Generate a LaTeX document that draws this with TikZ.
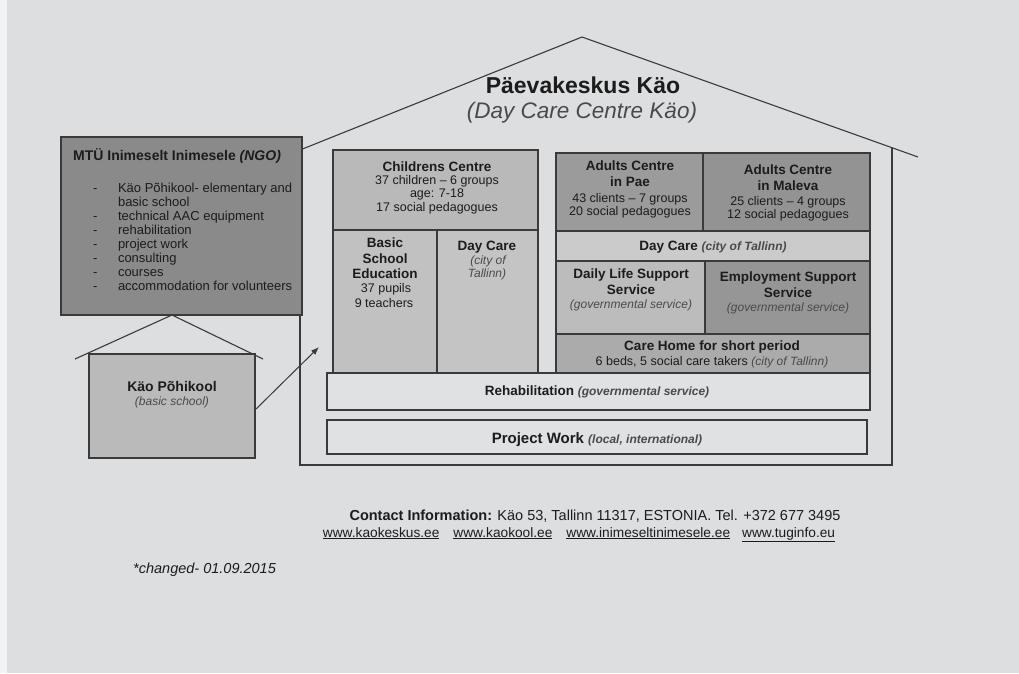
\documentclass[tikz,border=0pt]{standalone}
\usepackage{fontspec}
\setmainfont{Liberation Sans}
\usetikzlibrary{arrows.meta}
\definecolor{paper}{HTML}{DCDEE0}
\definecolor{edgestrip}{HTML}{F2F3F4}
\definecolor{ink}{HTML}{3A3A3A}
\definecolor{txt}{HTML}{1C1C1C}
\definecolor{itx}{HTML}{4A4A4A}
\definecolor{cNGO}{HTML}{8A8A8A}
\definecolor{cKao}{HTML}{BABABA}
\definecolor{cChild}{HTML}{B9B9B9}
\definecolor{cBasic}{HTML}{C1C1C1}
\definecolor{cDayL}{HTML}{C4C4C4}
\definecolor{cPae}{HTML}{9B9B9B}
\definecolor{cMal}{HTML}{939393}
\definecolor{cDayR}{HTML}{CBCBCB}
\definecolor{cDaily}{HTML}{BCBCBC}
\definecolor{cEmp}{HTML}{969696}
\definecolor{cCare}{HTML}{ABABAB}
\definecolor{cLight}{HTML}{DFE1E3}
\newcommand\fBold{\fontsize{13.5}{16}\selectfont\bfseries}
\newcommand\fReg{\fontsize{12.5}{15}\selectfont}
\newcommand\fIt{\fontsize{12}{14}\selectfont\itshape\color{itx}}
\tikzset{
  cell/.style={draw=ink, line width=1.1pt, inner sep=0pt, outer sep=0pt},
  lbl/.style={anchor=base, inner sep=0pt, outer sep=0pt, text=txt},
  wall/.style={draw=ink, line width=1.1pt, line join=miter},
}
\newcommand\cellbox[6]{\node[cell, fill=#6, minimum width={(#4)-(#2)}, minimum height={(#5)-(#3)}] (#1) at ({((#2)+(#4))/2},{((#3)+(#5))/2}) {};}
\newcommand\txtline[5]{\node[lbl] (#1) at (#2,#3) {#4#5};}
\begin{document}
\begin{tikzpicture}[x=1pt,y=-1pt]
\fill[paper] (0,0) rectangle (1019,673);
\fill[edgestrip] (0,0) rectangle (7,673);
\useasboundingbox (0,0) rectangle (1019,673);

% ---------- big house ----------
\coordinate (hl) at (300,150);
\coordinate (ha) at (582,37);
\coordinate (hr) at (918,157);
\coordinate (hrw) at (892,148);
\coordinate (hbl) at (300,465);
\coordinate (hbr) at (892,465);
\draw[wall] (hl) -- (ha) -- (hr);
\draw[wall] (hl) -- (hbl) -- (hbr) -- (hrw);

\txtline{title}{583}{93}{\fontsize{23}{27}\selectfont\bfseries}{Päevakeskus Käo}
\txtline{subtitle}{582}{118}{\fontsize{22.5}{27}\selectfont\itshape\color{itx}}{(Day Care Centre Käo)}

% left section
\cellbox{child}{333}{150}{538}{230}{cChild}
\cellbox{basic}{333}{230}{437}{373}{cBasic}
\cellbox{dayl}{437}{230}{538}{373}{cDayL}
% right section
\cellbox{pae}{556}{153}{703}{231}{cPae}
\cellbox{mal}{703}{153}{870}{231}{cMal}
\cellbox{dayr}{556}{231}{870}{261}{cDayR}
\cellbox{daily}{556}{261}{705}{334}{cDaily}
\cellbox{emp}{705}{261}{870}{334}{cEmp}
\cellbox{care}{556}{334}{870}{373}{cCare}
% bands
\cellbox{rehab}{327}{373}{870}{410}{cLight}
\cellbox{proj}{327}{420}{867}{454}{cLight}

% texts left section
\txtline{cc1}{437}{171}{\fBold}{Childrens Centre}
\txtline{cc2}{437}{184}{\fReg}{37 children – 6 groups}
\txtline{cc3}{437}{197}{\fReg}{age: 7-18}
\txtline{cc4}{437}{211}{\fReg}{17 social pedagogues}

\txtline{bs1}{385}{247}{\fBold}{Basic}
\txtline{bs2}{385}{263}{\fBold}{School}
\txtline{bs3}{385}{278}{\fBold}{Education}
\txtline{bs4}{386}{292}{\fReg}{37 pupils}
\txtline{bs5}{384}{307}{\fReg}{9 teachers}

\txtline{dl1}{487}{250}{\fBold}{Day Care}
\txtline{dl2}{488}{264}{\fIt}{(city of}
\txtline{dl3}{487}{277}{\fIt}{Tallinn)}

% texts right section
\txtline{pa1}{630}{170}{\fBold}{Adults Centre}
\txtline{pa2}{630}{186}{\fBold}{in Pae}
\txtline{pa3}{630}{202}{\fReg}{43 clients – 7 groups}
\txtline{pa4}{630}{215}{\fReg}{20 social pedagogues}

\txtline{ma1}{788}{174}{\fBold}{Adults Centre}
\txtline{ma2}{788}{190}{\fBold}{in Maleva}
\txtline{ma3}{788}{205}{\fReg}{25 clients – 4 groups}
\txtline{ma4}{788}{218}{\fReg}{12 social pedagogues}

\txtline{dr1}{713}{250}{\fBold}{Day Care {\fIt (city of Tallinn)}}

\txtline{da1}{631}{278}{\fBold}{Daily Life Support}
\txtline{da2}{631}{294}{\fBold}{Service}
\txtline{da3}{631}{308}{\fIt}{(governmental service)}

\txtline{em1}{788}{281}{\fBold}{Employment Support}
\txtline{em2}{788}{297}{\fBold}{Service}
\txtline{em3}{788}{311}{\fIt}{(governmental service)}

\txtline{ch1}{712}{350}{\fBold}{Care Home for short period}
\txtline{ch2}{712}{365}{\fReg}{6 beds, 5 social care takers {\fIt (city of Tallinn)}}

\txtline{rh1}{597}{395}{\fBold}{Rehabilitation {\fIt (governmental service)}}
\txtline{pw1}{597}{443}{\fontsize{15}{17}\selectfont\bfseries}{Project Work {\fIt (local, international)}}

% ---------- NGO box ----------
\cellbox{ngo}{61}{137}{302}{315}{cNGO}
\node[anchor=base west, inner sep=0pt, text=txt] (ngot) at (73,160)
  {\fontsize{14}{16}\selectfont\bfseries MTÜ Inimeselt Inimesele \textit{(NGO)}};
\node[anchor=north west, inner sep=0pt, text=txt] (ngol) at (93,182.2)
  {\fontsize{13}{14}\selectfont
   \begin{tabular}{@{}l@{\hspace{20.5pt}}l@{}}
   - & Käo Põhikool- elementary and\\
     & basic school\\
   - & technical AAC equipment\\
   - & rehabilitation\\
   - & project work\\
   - & consulting\\
   - & courses\\
   - & accommodation for volunteers
   \end{tabular}};

% ---------- small house ----------
\coordinate (sl) at (75,359);
\coordinate (sa) at (172,315);
\coordinate (sr) at (263,359);
\draw[wall] (sl) -- (sa) -- (sr);
\cellbox{kao}{89}{354}{255}{458}{cKao}
\txtline{ka1}{172}{391}{\fontsize{14}{16}\selectfont\bfseries}{Käo Põhikool}
\txtline{ka2}{172}{405}{\fIt}{(basic school)}

\coordinate (arrtip) at (319,347);
\draw[draw=ink, line width=1pt, -{Latex[length=8pt,width=6pt]}] ([yshift=-4pt]kao.east) -- (arrtip);

% ---------- footer ----------
\txtline{contact}{595}{520}{\fontsize{14.5}{17}\selectfont}{\textbf{Contact Information:} Käo 53, Tallinn 11317, ESTONIA. Tel. +372 677 3495}
\txtline{urls}{579}{537}{\fontsize{13.7}{16}\selectfont}{\underline{www.kaokeskus.ee}\hspace{14pt}\underline{www.kaokool.ee}\hspace{14pt}\underline{www.inimeseltinimesele.ee}\hspace{12pt}\underline{www.tuginfo.eu}}
\node[anchor=base west, inner sep=0pt, text=txt] (changed) at (133,573)
  {\fontsize{14.5}{17}\selectfont\itshape *changed- 01.09.2015};
\end{tikzpicture}
\end{document}
